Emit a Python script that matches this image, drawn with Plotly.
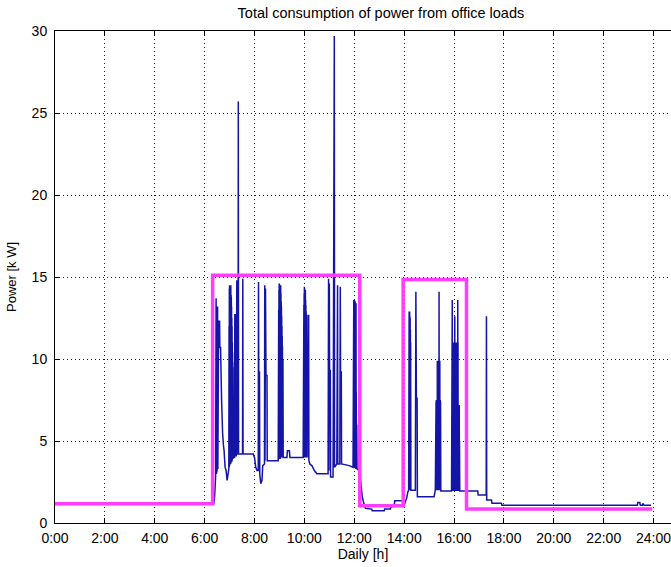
import plotly.graph_objects as go

# ---- data ----
hour_ticks = [0, 2, 4, 6, 8, 10, 12, 14, 16, 18, 20, 22, 24]
hour_labels = ["0:00", "2:00", "4:00", "6:00", "8:00", "10:00", "12:00",
               "14:00", "16:00", "18:00", "20:00", "22:00", "24:00"]
power_ticks = [0, 5, 10, 15, 20, 25, 30]

# measured consumption, (hour, kW) pairs, segment by segment
night = [(0.00, 1.15), (6.36, 1.15)]
rise = [(6.38, 1.3), (6.40, 1.6), (6.42, 2.2), (6.44, 2.8), (6.46, 13.7), (6.47, 3.0),
        (6.50, 3.2), (6.52, 13.2), (6.53, 3.3), (6.56, 12.3), (6.60, 12.3), (6.61, 10.7),
        (6.64, 10.7), (6.66, 9.0), (6.68, 7.5), (6.70, 6.5), (6.72, 5.5), (6.75, 4.8),
        (6.78, 4.4), (6.82, 3.4), (6.86, 3.2), (6.90, 2.6), (6.94, 3.0), (6.97, 3.3)]
cluster7 = [(6.98, 12.0), (6.985, 3.4), (6.99, 14.3), (6.995, 3.5), (7.00, 14.5), (7.005, 3.5),
            (7.01, 14.2), (7.015, 3.6), (7.02, 14.4), (7.025, 3.6), (7.03, 14.5), (7.035, 3.6),
            (7.04, 14.1), (7.045, 3.6), (7.05, 14.5), (7.055, 3.7), (7.06, 13.9), (7.065, 3.7),
            (7.07, 13.8), (7.075, 3.7), (7.08, 13.2), (7.085, 3.7), (7.09, 12.5), (7.095, 3.8),
            (7.10, 12.0), (7.105, 3.8), (7.11, 11.0), (7.115, 3.9), (7.12, 10.4), (7.125, 3.9),
            (7.13, 9.8), (7.135, 3.9), (7.14, 9.5), (7.15, 4.0)]
mid7 = [(7.20, 4.0), (7.21, 12.7), (7.23, 12.7), (7.24, 4.1), (7.27, 4.1), (7.29, 14.8),
        (7.30, 4.2), (7.34, 4.2), (7.35, 25.7), (7.36, 4.2), (7.52, 4.2), (7.53, 14.9), (7.54, 4.2)]
h8 = [(7.95, 4.2), (8.00, 4.0), (8.05, 3.4), (8.10, 3.2), (8.15, 3.2), (8.16, 14.7), (8.17, 9.2),
      (8.20, 9.2), (8.21, 3.0), (8.25, 2.4), (8.30, 2.6), (8.33, 3.5), (8.40, 3.6), (8.41, 14.5),
      (8.42, 3.8), (8.44, 14.3), (8.46, 9.0), (8.50, 9.0), (8.51, 3.8)]
cluster9 = [(8.95, 3.8), (8.97, 13.0), (8.975, 3.9), (8.98, 14.2), (8.985, 3.9), (8.99, 14.6),
            (8.995, 3.9), (9.00, 14.6), (9.005, 3.9), (9.01, 14.4), (9.015, 3.9), (9.02, 14.4),
            (9.025, 3.9), (9.03, 14.3), (9.035, 3.9), (9.04, 14.5), (9.045, 4.0), (9.05, 14.5),
            (9.055, 4.0), (9.06, 14.0), (9.065, 4.0), (9.07, 13.5), (9.075, 4.0), (9.08, 13.2),
            (9.085, 4.0), (9.09, 12.6), (9.095, 4.0), (9.10, 12.0), (9.105, 4.0), (9.11, 11.4),
            (9.115, 4.0), (9.12, 10.8), (9.13, 4.0), (9.14, 10.0), (9.15, 4.0)]
h9 = [(9.30, 4.0), (9.32, 4.4), (9.40, 4.4), (9.42, 4.0), (9.95, 4.0)]
cluster10 = [(9.98, 13.3), (9.985, 4.0), (9.99, 14.0), (9.995, 4.0), (10.00, 14.4), (10.005, 4.0),
             (10.01, 14.3), (10.015, 4.0), (10.02, 14.2), (10.025, 4.0), (10.03, 13.9), (10.035, 4.0),
             (10.04, 14.2), (10.045, 4.0), (10.05, 13.6), (10.055, 4.0), (10.06, 13.3), (10.065, 4.0),
             (10.07, 12.9), (10.075, 4.0), (10.08, 12.7), (10.085, 4.0), (10.10, 12.7), (10.11, 9.3),
             (10.14, 9.3), (10.15, 4.0), (10.17, 12.7), (10.18, 3.8), (10.22, 3.6), (10.30, 3.5),
             (10.40, 3.2), (10.50, 3.0), (10.95, 3.0)]
h11 = [(10.97, 14.9), (10.98, 3.2), (11.00, 14.6), (11.01, 9.3), (11.04, 9.3), (11.05, 2.8),
       (11.15, 2.8), (11.20, 29.7), (11.21, 3.4), (11.30, 3.6), (11.33, 14.5), (11.34, 3.6),
       (11.42, 3.6), (11.44, 14.4), (11.45, 9.2), (11.48, 9.2), (11.49, 3.6), (11.80, 3.5), (11.95, 3.4)]
cluster12 = [(11.98, 13.6), (11.985, 3.4), (11.99, 13.6), (11.995, 3.4), (12.00, 13.5), (12.005, 3.4),
             (12.01, 13.6), (12.015, 3.4), (12.02, 13.5), (12.025, 3.4), (12.03, 13.4), (12.035, 3.4),
             (12.04, 13.5), (12.045, 3.4), (12.05, 13.4), (12.055, 3.3), (12.06, 13.3), (12.065, 3.3),
             (12.07, 13.4), (12.075, 3.3), (12.08, 8.0), (12.09, 3.3), (12.10, 6.0), (12.11, 3.3)]
lunch = [(12.20, 3.2), (12.26, 2.5), (12.32, 1.6), (12.38, 1.2), (12.45, 0.9), (12.70, 0.85),
         (12.72, 0.75), (13.20, 0.75), (13.22, 0.85), (13.45, 0.85), (13.47, 1.0), (13.60, 1.0),
         (13.62, 1.35), (13.95, 1.35), (14.00, 1.1), (14.10, 1.5), (14.15, 1.9), (14.18, 2.0)]
cluster14 = [(14.20, 12.9), (14.205, 2.0), (14.21, 12.8), (14.215, 2.0), (14.22, 12.9), (14.225, 2.0),
             (14.23, 12.6), (14.235, 2.0), (14.24, 12.5), (14.245, 2.0), (14.25, 11.8), (14.255, 2.0),
             (14.26, 11.0), (14.27, 2.0)]
h14 = [(14.45, 2.0), (14.47, 14.1), (14.49, 7.6), (14.52, 7.6), (14.53, 1.6), (15.20, 1.6), (15.25, 2.0)]
cluster15 = [(15.28, 7.4), (15.285, 2.0), (15.29, 7.5), (15.295, 2.0), (15.30, 7.4), (15.305, 2.0),
             (15.31, 7.5), (15.315, 2.0), (15.32, 7.5), (15.325, 2.0), (15.33, 9.9), (15.335, 2.0),
             (15.34, 9.9), (15.345, 2.0), (15.35, 9.8), (15.355, 2.0), (15.36, 9.9), (15.365, 2.0),
             (15.37, 9.9), (15.375, 2.0), (15.38, 9.9), (15.385, 2.0), (15.39, 9.7), (15.395, 2.0),
             (15.40, 14.1), (15.405, 2.0), (15.41, 9.9), (15.415, 2.0), (15.42, 9.8), (15.425, 2.0),
             (15.43, 9.9), (15.435, 2.0), (15.44, 7.4), (15.445, 2.0), (15.45, 7.5), (15.455, 2.0),
             (15.46, 7.4), (15.47, 1.95)]
cluster16 = [(15.90, 1.95), (15.93, 13.6), (15.94, 1.95), (15.96, 7.2), (15.965, 1.95), (15.97, 7.2),
             (15.975, 1.95), (15.98, 7.1), (15.985, 1.95), (15.99, 11.0), (15.995, 1.95), (16.00, 11.0),
             (16.005, 1.95), (16.01, 10.9), (16.015, 1.95), (16.02, 11.0), (16.025, 1.95), (16.03, 12.6),
             (16.035, 1.95), (16.04, 11.0), (16.045, 1.95), (16.05, 10.9), (16.055, 1.95), (16.06, 11.0),
             (16.065, 1.95), (16.07, 7.2), (16.075, 1.95), (16.08, 7.2), (16.085, 1.95), (16.09, 7.1),
             (16.095, 1.95), (16.10, 7.2), (16.105, 1.95), (16.11, 11.0), (16.115, 1.95), (16.12, 11.0),
             (16.125, 1.95), (16.13, 10.9), (16.135, 1.95), (16.14, 11.0), (16.145, 1.95), (16.15, 13.6),
             (16.155, 1.95), (16.16, 11.0), (16.165, 1.95), (16.17, 7.2), (16.175, 1.95), (16.18, 7.2),
             (16.185, 1.95), (16.19, 7.1), (16.195, 1.95), (16.20, 7.2), (16.205, 1.95), (16.21, 7.2),
             (16.215, 1.95), (16.22, 5.0), (16.23, 1.95)]
evening = [(16.95, 1.95), (16.97, 1.7), (17.25, 1.7), (17.29, 1.7), (17.30, 12.6), (17.31, 1.4),
           (17.50, 1.4), (17.52, 1.2), (17.90, 1.2), (17.92, 1.08), (23.35, 1.08), (23.37, 1.25),
           (23.45, 1.25), (23.47, 1.08), (23.55, 1.08), (23.57, 1.2), (23.62, 1.08), (23.90, 1.08)]

load_segments = [night, rise, cluster7, mid7, h8, cluster9, h9, cluster10, h11, cluster12,
                 lunch, cluster14, h14, cluster15, cluster16, evening]

# scheduled / envelope profile (hours, kW)
t_profile = [0.0, 6.32, 6.32, 12.22, 12.22, 13.96, 13.96, 16.50, 16.50, 23.95]
p_profile = [1.18, 1.18, 15.1, 15.1, 1.05, 1.05, 14.84, 14.84, 0.86, 0.86]

t_load = [t for seg in load_segments for t, _ in seg]
p_load = [p for seg in load_segments for _, p in seg]

# ---- figure ----
fig = go.Figure()
fig.add_trace(go.Scatter(x=t_load, y=p_load, mode="lines",
                         line=dict(color="#1414A6", width=1.5, simplify=False),
                         showlegend=False, hoverinfo="skip"))
fig.add_trace(go.Scatter(x=t_profile, y=p_profile, mode="lines",
                         line=dict(color="#FF3CFF", width=3.5),
                         showlegend=False, hoverinfo="skip"))

font_main = "Liberation Sans, Arial, sans-serif"
fig.update_layout(
    width=671, height=567,
    margin=dict(l=55, r=0, t=31, b=44),
    paper_bgcolor="white", plot_bgcolor="white",
    font=dict(family=font_main, color="black", size=14),
    title=dict(text="Total consumption of power from office loads",
               x=355 / 671, xanchor="center", xref="paper",
               y=1 - 13 / 567, yanchor="middle", yref="container",
               font=dict(size=14.5, family=font_main, color="black")),
)
fig.update_xaxes(
    range=[0, 24.7], tickvals=hour_ticks, ticktext=hour_labels,
    showline=True, linecolor="black", linewidth=1, mirror="ticks",
    ticks="inside", ticklen=5, tickcolor="black",
    showgrid=True, gridcolor="#222222", gridwidth=1, griddash="1px,3px",
    zeroline=False, tickfont=dict(size=14), ticklabelstandoff=2,
    ticklabeloverflow="allow",
    title=dict(text="Daily [h]", font=dict(size=14), standoff=3),
)
fig.update_yaxes(
    range=[0, 30], tickvals=power_ticks,
    showline=True, linecolor="black", linewidth=1, mirror=False,
    ticks="inside", ticklen=5, tickcolor="black",
    showgrid=True, gridcolor="#222222", gridwidth=1, griddash="1px,3px",
    zeroline=False, tickfont=dict(size=14), ticklabelstandoff=4,
    title=dict(text="Power [k W]", font=dict(size=13), standoff=12),
)

fig.write_html("out.html", config={"displayModeBar": False},
               post_script="document.body.style.margin='0';")
